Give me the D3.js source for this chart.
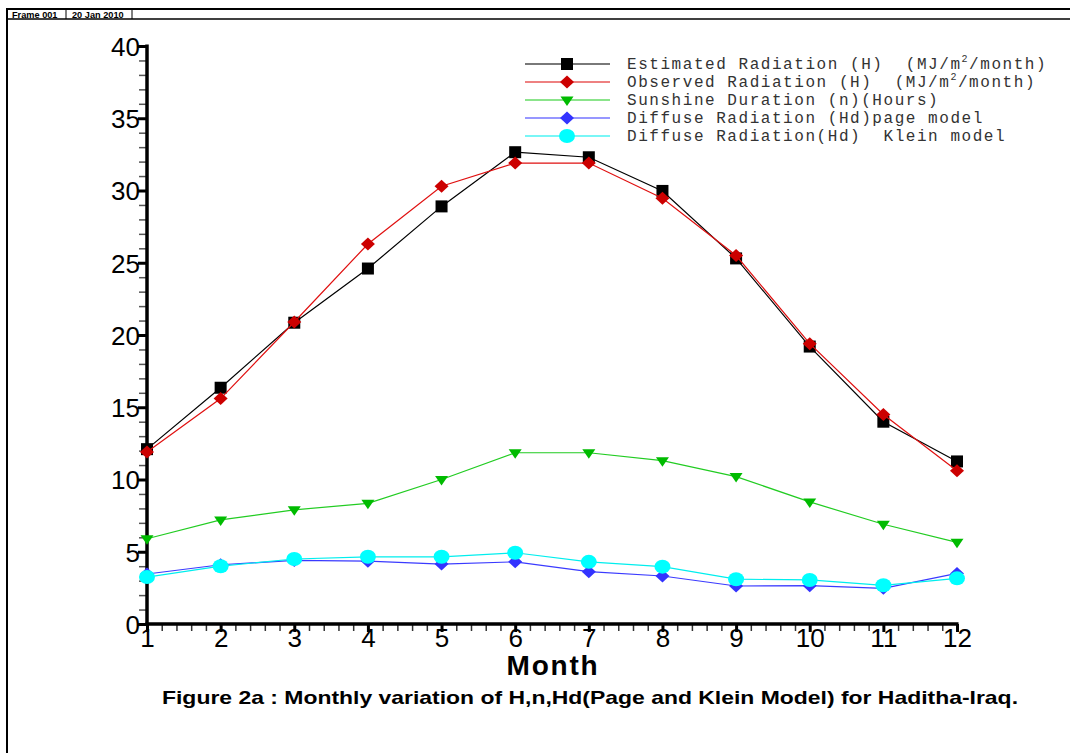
<!DOCTYPE html>
<html><head><meta charset="utf-8">
<script src="https://cdn.jsdelivr.net/npm/d3@7"></script>
<style>body{margin:0;background:#fff}svg{display:block}.pre{white-space:pre}</style>
</head><body>
<svg id="c" width="1070" height="753"></svg>
<script>
const months = [1,2,3,4,5,6,7,8,9,10,11,12];
const estimatedH = [12.1,16.35,20.85,24.6,28.9,32.65,32.3,29.97,25.3,19.2,14.0,11.25];
const observedH  = [11.9,15.6,20.9,26.3,30.3,31.9,31.9,29.46,25.5,19.4,14.5,10.6];
const sunshine   = [5.9,7.2,7.9,8.35,10.0,11.85,11.85,11.3,10.2,8.45,6.9,5.65];
const hdPage     = [3.46,4.1,4.4,4.35,4.15,4.3,3.62,3.32,2.63,2.65,2.47,3.5];
const hdKlein    = [3.25,4.0,4.5,4.65,4.65,4.93,4.3,3.97,3.1,3.05,2.68,3.16];
const yTicks = [0,5,10,15,20,25,30,35,40];
const legendLabels = [
  ["Estimated Radiation (H)  (MJ/m","2","/month)"],
  ["Observed Radiation (H)  (MJ/m","2","/month)"],
  ["Sunshine Duration (n)(Hours)"],
  ["Diffuse Radiation (Hd)page model"],
  ["Diffuse Radiation(Hd)  Klein model"]
];

const series = [
  {vals: estimatedH, line:"#000000", fill:"#000000", marker:"square"},
  {vals: observedH,  line:"#e01010", fill:"#cc0000", marker:"diamond"},
  {vals: sunshine,   line:"#22cc22", fill:"#00bb00", marker:"triangle"},
  {vals: hdPage,     line:"#3a3aff", fill:"#3333ff", marker:"diamond"},
  {vals: hdKlein,    line:"#00eeee", fill:"#00ffff", marker:"circle"}
];

const svg = d3.select("#c");
const x = d3.scaleLinear().domain([1,12]).range([147,957]);
const y = d3.scaleLinear().domain([0,40]).range([624,46]);

// frame header
svg.append("line").attr("x1",7).attr("x2",1070).attr("y1",9).attr("y2",9).attr("stroke","#000").attr("stroke-width",2);
svg.append("line").attr("x1",7).attr("x2",1070).attr("y1",19).attr("y2",19).attr("stroke","#000").attr("stroke-width",1.5);
svg.append("line").attr("x1",7).attr("x2",7).attr("y1",8).attr("y2",753).attr("stroke","#000").attr("stroke-width",2);
svg.append("line").attr("x1",66).attr("x2",66).attr("y1",9).attr("y2",19).attr("stroke","#000").attr("stroke-width",1);
svg.append("line").attr("x1",132).attr("x2",132).attr("y1",9).attr("y2",19).attr("stroke","#000").attr("stroke-width",1);
svg.append("text").attr("x",12).attr("y",17.5).attr("font-family","Liberation Sans, Arial, sans-serif").attr("font-weight","bold").attr("font-size",9.2).text("Frame 001");
svg.append("text").attr("x",72).attr("y",17.5).attr("font-family","Liberation Sans, Arial, sans-serif").attr("font-weight","bold").attr("font-size",9.2).text("20 Jan 2010");

// axes
const yAxis = d3.axisLeft(y).tickValues(yTicks).tickSize(9).tickFormat(d3.format("d"));
const yMinor = d3.axisLeft(y).tickValues(d3.range(0,40,1).filter(v=>v%5!==0)).tickSize(8).tickFormat("");
const xAxis = d3.axisBottom(x).tickValues(months).tickSize(8).tickFormat(d3.format("d"));
const xMinor = d3.axisBottom(x).tickValues(d3.range(1,12,0.2).map(v=>+v.toFixed(1)).filter(v=>Math.abs(v-Math.round(v))>0.01)).tickSize(7).tickFormat("");

const gym = svg.append("g").attr("transform","translate(147,0)").call(yMinor);
gym.select(".domain").remove();
gym.selectAll("line").attr("stroke","#555").attr("stroke-width",1.5);
const gxm = svg.append("g").attr("transform","translate(0,624)").call(xMinor);
gxm.select(".domain").remove();
gxm.selectAll("line").attr("stroke","#333").attr("stroke-width",1.5);

const gy = svg.append("g").attr("transform","translate(147,0)").call(yAxis);
gy.select(".domain").remove();
gy.selectAll("line").attr("stroke","#000").attr("stroke-width",3);
gy.selectAll("text").attr("font-family","Liberation Sans, Arial, sans-serif").attr("font-size",26).attr("fill","#000").attr("x",-7).attr("dy","0.36em");

const gx = svg.append("g").attr("transform","translate(0,624)").call(xAxis);
gx.select(".domain").remove();
gx.selectAll("line").attr("stroke","#000").attr("stroke-width",3);
gx.selectAll("text").attr("font-family","Liberation Sans, Arial, sans-serif").attr("font-size",26).attr("fill","#000").attr("y",5).attr("dy","0.71em");

svg.append("line").attr("x1",147).attr("x2",147).attr("y1",y(40)-1.5).attr("y2",y(0)+1.5).attr("stroke","#000").attr("stroke-width",3.5);
svg.append("line").attr("x1",145.5).attr("x2",x(12)+1.5).attr("y1",624).attr("y2",624).attr("stroke","#000").attr("stroke-width",3.5);

// markers
function marker(g, type, cx, cy, fill){
  if(type==="square") g.append("rect").attr("x",cx-6).attr("y",cy-6).attr("width",12).attr("height",12).attr("fill",fill);
  else if(type==="diamond") g.append("path").attr("d",`M${cx-7},${cy}L${cx},${cy-6.5}L${cx+7},${cy}L${cx},${cy+6.5}Z`).attr("fill",fill);
  else if(type==="triangle") g.append("path").attr("d",`M${cx-6.5},${cy-3.5}L${cx+6.5},${cy-3.5}L${cx},${cy+6}Z`).attr("fill",fill);
  else if(type==="circle") g.append("ellipse").attr("cx",cx).attr("cy",cy).attr("rx",8).attr("ry",7).attr("fill",fill);
}

const line = d3.line().x((d,i)=>x(months[i])).y(d=>y(d));
series.forEach(s=>{
  const g = svg.append("g");
  g.append("path").attr("d",line(s.vals)).attr("fill","none").attr("stroke",s.line).attr("stroke-width",1.2);
  s.vals.forEach((v,i)=>marker(g,s.marker,x(months[i]),y(v),s.fill));
});

// legend
const lg = svg.append("g");
series.forEach((s,i)=>{
  const yy = 64 + i*18;
  lg.append("line").attr("x1",525).attr("x2",610).attr("y1",yy).attr("y2",yy).attr("stroke",s.line).attr("stroke-width",1.5).attr("stroke-opacity",0.7);
  marker(lg,s.marker,567,yy,s.fill);
  const t = lg.append("text").attr("class","pre").attr("x",627).attr("y",yy+5).attr("font-family","Liberation Mono, Courier New, monospace").attr("font-size",16).attr("letter-spacing","1.55px").attr("fill","#333");
  const parts = legendLabels[i];
  t.append("tspan").text(parts[0]);
  if(parts.length>1){
    t.append("tspan").attr("font-size",10).attr("dy",-7).text(parts[1]);
    t.append("tspan").attr("dy",7).text(parts[2]);
  }
});

// titles
svg.append("text").attr("x",553).attr("y",675).attr("text-anchor","middle").attr("font-family","Liberation Sans, Arial, sans-serif").attr("font-weight","bold").attr("font-size",28).attr("letter-spacing","1.8px").text("Month");
svg.append("text").attr("x",590).attr("y",704).attr("text-anchor","middle").attr("font-family","Liberation Sans, Arial, sans-serif").attr("font-weight","bold").attr("font-size",19).attr("textLength",856).attr("lengthAdjust","spacingAndGlyphs").text("Figure 2a : Monthly variation of H,n,Hd(Page and Klein Model) for Haditha-Iraq.");
</script>
</body></html>
